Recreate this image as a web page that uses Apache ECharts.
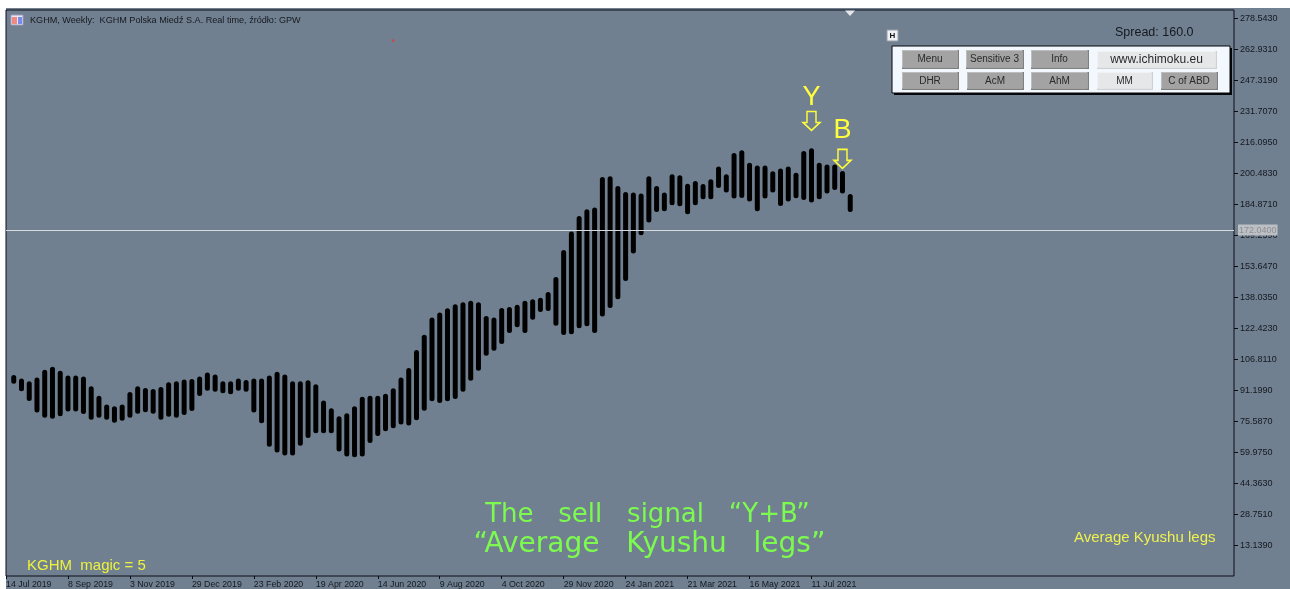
<!DOCTYPE html>
<html><head><meta charset="utf-8">
<style>html,body{margin:0;padding:0;background:#fff}#c{width:1290px;height:589px}</style>
<script src="https://cdn.jsdelivr.net/npm/echarts@6/dist/echarts.min.js"></script>
</head><body><div id="c"></div>
<script>
const legHighs = [99.0,97.3,95.8,97.8,101.7,103.2,101.2,98.8,98.8,98.3,93.3,88.6,84.2,83.2,84.2,90.4,93.3,92.5,92.0,93.0,95.3,95.8,96.7,97.0,98.2,100.2,99.3,95.8,95.8,97.3,96.5,97.3,97.3,98.8,100.7,99.3,95.8,95.8,96.3,94.3,86.1,82.2,78.2,79.7,83.2,88.1,88.6,88.6,89.6,92.3,97.8,102.5,111.6,119.3,128.0,130.5,132.6,134.7,135.6,136.4,135.6,128.7,128.0,132.8,133.3,134.4,136.4,137.2,137.9,140.8,148.4,162.0,171.3,179.1,182.5,183.4,198.8,199.1,194.2,191.2,190.9,190.4,199.1,194.2,190.9,200.1,199.6,195.3,196.8,195.2,197.6,204.0,200.1,210.8,212.3,206.0,204.6,204.6,201.6,203.1,204.0,200.9,211.8,213.3,206.0,205.0,205.1,201.8,190.2];
const legLows = [94.6,90.8,85.9,80.1,77.4,77.0,78.2,80.6,80.6,79.4,76.5,77.5,76.4,75.0,76.0,77.5,79.5,80.2,79.5,76.5,78.0,77.4,78.9,80.9,88.4,91.1,90.6,89.8,89.3,91.1,90.6,80.1,74.7,62.8,59.9,58.4,58.4,63.3,67.2,69.7,69.7,69.7,60.4,57.9,57.6,57.9,64.8,68.3,70.7,72.2,74.0,73.5,76.2,81.0,85.8,84.9,85.8,86.9,90.6,96.1,101.2,108.7,111.2,114.6,120.1,123.0,120.1,126.8,130.8,131.3,123.8,119.1,119.5,122.6,123.5,120.1,128.5,132.8,137.2,146.4,160.2,169.4,175.8,181.1,181.5,184.5,184.0,180.0,184.5,187.5,187.5,193.2,190.9,187.9,188.2,186.4,181.5,187.9,190.9,184.1,186.4,188.0,187.2,185.9,187.5,190.4,192.2,190.5,181.1];
const dateTicks = ['14 Jul 2019','8 Sep 2019','3 Nov 2019','29 Dec 2019','23 Feb 2020','19 Apr 2020','14 Jun 2020','9 Aug 2020','4 Oct 2020','29 Nov 2020','24 Jan 2021','21 Mar 2021','16 May 2021','11 Jul 2021'];
const priceTicks = [278.5430,262.9310,247.3190,231.7070,216.0950,200.4830,184.8710,169.2590,153.6470,138.0350,122.4230,106.8110,91.1990,75.5870,59.9750,44.3630,28.7510,13.1390];
const lastPrice = 172.04;

const GREY='#708090', YEL='#ffff3c', INK='#10141c', F='"Liberation Sans",Arial,sans-serif';
const bars = legHighs.map((h,i)=>[i+1,legLows[i],h]);
const arrowPath='path://M4,0 L13,0 L13,11 L17,11 L8.5,19 L0,11 L4,11 Z';

function btn(x,y,w,h,text,light,fs){
  const face=light?'#e6e7e8':'#a3a3a3';
  return [
    {type:'rect',shape:{x,y,width:w,height:h},style:{fill:light?'#cfd0d2':'#7f7f7f'},z:20},
    {type:'rect',shape:{x:x,y:y,width:w-1.5,height:h-1.5},style:{fill:light?'#f2f2f2':'#bdbdbd'},z:20},
    {type:'rect',shape:{x:x+1,y:y+1,width:w-2.5,height:h-2.5},style:{fill:face},z:20},
    {type:'text',x:x+w/2-0.5,y:y+h/2,style:{text,fill:'#2a2a2a',font:(fs||10)+'px '+F,textAlign:'center',textVerticalAlign:'middle'},z:21}
  ];
}
const graphics=[
  {type:'rect',shape:{x:6,y:8,width:1284,height:581},style:{fill:GREY},z:-10},
  {type:'rect',shape:{x:11,y:15,width:12,height:10},style:{fill:'#e8e8f4',stroke:'#9a9ac0',lineWidth:1},z:5},
  {type:'rect',shape:{x:12,y:17,width:5,height:7},style:{fill:'#f08a80'},z:6},
  {type:'rect',shape:{x:18,y:17,width:4,height:7},style:{fill:'#7a8ae8'},z:6},
  {type:'text',x:30,y:20,style:{text:'KGHM, Weekly:  KGHM Polska Miedź S.A. Real time, źródło: GPW',fill:'#15181f',font:'9.1px '+F,textVerticalAlign:'middle'},z:6},
  {type:'rect',shape:{x:392,y:39.5,width:2.5,height:2},style:{fill:'#d84040'},z:6},
  {type:'polygon',shape:{points:[[845,10.5],[855,10.5],[850,16]]},style:{fill:'#e4e6ea'},z:6},
  {type:'rect',shape:{x:887,y:30,width:11,height:11},style:{fill:'#eef0f4',stroke:'#9aa0a8',lineWidth:1},z:20},
  {type:'text',x:892.5,y:35.5,style:{text:'H',fill:'#111',font:'bold 8px '+F,textAlign:'center',textVerticalAlign:'middle'},z:21},
  {type:'text',x:1115,y:33,style:{text:'Spread: 160.0',fill:'#15181f',font:'12.5px '+F,textVerticalAlign:'middle'},z:6},
  {type:'rect',shape:{x:894,y:48,width:338,height:47},style:{fill:'#05070a'},z:18},
  {type:'rect',shape:{x:892,y:46,width:338,height:47},style:{fill:'#f3f7fe',stroke:'#05070a',lineWidth:1},z:19},
  ...btn(902,50,57,19,'Menu'),
  ...btn(966,50,58,19,'Sensitive 3'),
  ...btn(1031,50,58,19,'Info'),
  ...btn(1097,51,120,18,'www.ichimoku.eu',true,12),
  ...btn(902,72,57,18,'DHR'),
  ...btn(967,72,57,18,'AcM'),
  ...btn(1031,72,58,18,'AhM'),
  ...btn(1097,72,56,18,'MM',true),
  ...btn(1161,72,57,18,'C of ABD',false),
  {type:'text',x:647.5,y:515,style:{text:'The   sell   signal   “Y+B”',fill:'#7dfa50',font:'26px "DejaVu Sans",sans-serif',textAlign:'center',textVerticalAlign:'middle'},z:6},
  {type:'text',x:649.5,y:545,style:{text:'“Average   Kyushu   legs”',fill:'#7dfa50',font:'28px "DejaVu Sans",sans-serif',textAlign:'center',textVerticalAlign:'middle'},z:6},
  {type:'text',x:27,y:566,style:{text:'KGHM  magic = 5',fill:'#eef23c',font:'15px '+F,textVerticalAlign:'middle'},z:6},
  {type:'text',x:1074,y:538,style:{text:'Average Kyushu legs',fill:'#f0f050',font:'15px '+F,textVerticalAlign:'middle'},z:6}
];

const chart=echarts.init(document.getElementById('c'),null,{renderer:'canvas'});
chart.setOption({
  animation:false,
  backgroundColor:'#ffffff',
  graphic:graphics,
  grid:{left:6,top:10,right:56,bottom:12,show:true,backgroundColor:'transparent',borderColor:'#0a0d14',borderWidth:1},
  xAxis:{type:'value',min:0,max:158.55,splitLine:{show:false},axisLine:{show:false,onZero:false},
    axisTick:{show:true,length:3,lineStyle:{color:'#0a0d14'},customValues:dateTicks.map((d,i)=>i*8)},
    axisLabel:{customValues:dateTicks.map((d,i)=>i*8),formatter:v=>dateTicks[v/8]||'',align:'left',margin:4,color:'#15181f',fontSize:8.8,fontFamily:F,hideOverlap:false}},
  yAxis:{type:'value',position:'right',min:-2.27,max:282.9,splitLine:{show:false},axisLine:{show:false,onZero:false},
    axisTick:{show:true,length:4,lineStyle:{color:'#0a0d14'},customValues:priceTicks},
    axisLabel:{customValues:priceTicks,formatter:v=>v.toFixed(4),margin:6,color:'#15181f',fontSize:9,fontFamily:F,hideOverlap:false}},
  series:[{
    type:'custom',
    data:bars,
    encode:{x:0,y:[1,2]},
    clip:false,
    renderItem(params,api){
      const top=api.coord([api.value(0),api.value(2)]);
      const bot=api.coord([api.value(0),api.value(1)]);
      return {type:'rect',shape:{x:top[0]-2.5,y:top[1],width:5,height:bot[1]-top[1],r:2.5},style:{fill:'#000'}};
    },
    markLine:{silent:true,symbol:'none',animation:false,z:10,
      lineStyle:{color:'#d8dbde',width:1,type:'solid'},
      data:[{yAxis:lastPrice}],
      label:{show:true,position:'end',formatter:()=>lastPrice.toFixed(4),distance:4,color:'#8d8f92',backgroundColor:'#bcbfc3',fontSize:9,fontFamily:F,padding:[1,1,1,1]}},
    markPoint:{silent:true,animation:false,symbol:arrowPath,symbolSize:[17,19],symbolKeepAspect:false,
      itemStyle:{color:'rgba(0,0,0,0)',borderColor:YEL,borderWidth:1.5},
      label:{show:true,position:'top',color:YEL,fontSize:27,fontFamily:F},
      data:[{coord:[104,227],value:'Y',label:{formatter:'Y',distance:0}},{coord:[108,207.9],value:'B',label:{formatter:'B',distance:5}}]}
  }]
});
</script></body></html>
